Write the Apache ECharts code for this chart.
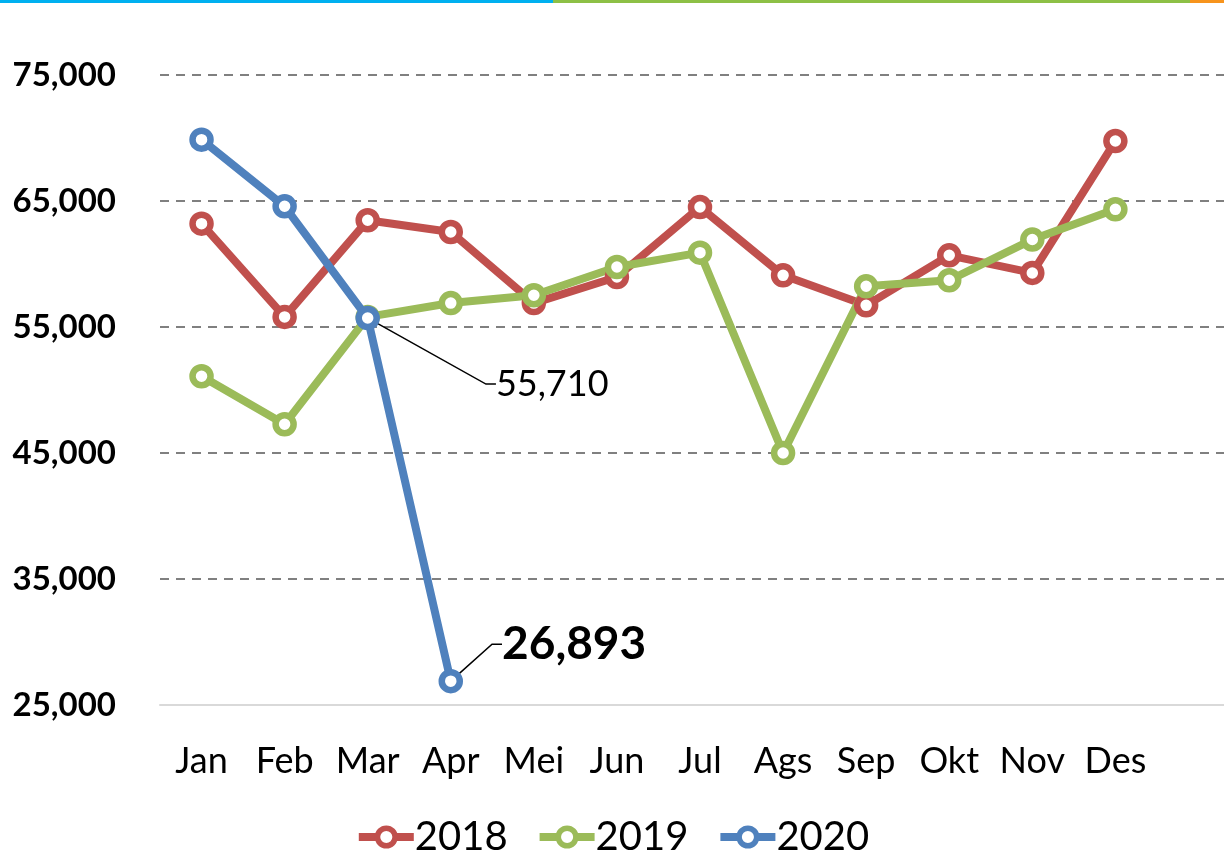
<!DOCTYPE html>
<html>
<head>
<meta charset="utf-8">
<script src="https://cdn.jsdelivr.net/npm/echarts@6/dist/echarts.min.js"></script>
<style>
html,body{margin:0;padding:0;background:#fff;}
#bar{position:absolute;left:0;top:0;width:1224px;height:3px;
  background:linear-gradient(to right,#00b0f0 0,#00b0f0 553px,#8dc046 553px,#8dc046 1190px,#f7941d 1190px,#f7941d 1224px);}
#chart{width:1224px;height:858px;}
</style>
</head>
<body>
<div id="bar"></div>
<div id="chart"></div>
<script>
// data
let months = ["Jan","Feb","Mar","Apr","Mei","Jun","Jul","Ags","Sep","Okt","Nov","Des"]
let years = ["2018","2019","2020"]
let data2018 = [63200,55800,63470,62540,56900,58970,64520,59100,56720,60690,59290,69760]
let data2019 = [51090,47280,55800,56900,57520,59760,60900,45000,58230,58710,61940,64340]
let data2020 = [69870,64580,55710,26893]
let colors = ["#c0504d","#9bbb59","#4f81bd"]

let myChart = echarts.init(document.getElementById("chart"))

function makeSeries(name, values, color){
  return {
    name:name,
    type:"line",
    data:values,
    symbol:"circle",
    symbolSize:18,
    showAllSymbol:true,
    lineStyle:{ color:color, width:8 },
    itemStyle:{ color:"#fff", borderColor:color, borderWidth:6.5 },
    emphasis:{ disabled:true },
    z:2
  }
}

let s2020 = makeSeries(years[2], data2020, colors[2])
s2020.z = 3
// labels only on the last two points of 2020
s2020.data = data2020.map(function(v, i){
  if(i === 2){
    return { value:v, label:{ show:true, position:"right", distance:4,
      formatter:function(p){ return p.value.toLocaleString("en-US") },
      fontSize:36, fontFamily:"Lato", color:"#000" } }
  }
  if(i === 3){
    return { value:v, label:{ show:true, position:"right", distance:4,
      formatter:function(p){ return p.value.toLocaleString("en-US") },
      fontSize:46, fontWeight:"bold", fontFamily:"Lato", color:"#000" } }
  }
  return v
})
s2020.labelLine = { show:true, length2:10, lineStyle:{ color:"#000", width:1.5 } }
s2020.labelLayout = function(p){
  if(p.dataIndex === 2) return { dx:112, dy:66 }
  if(p.dataIndex === 3) return { dx:35, dy:-37 }
  return {}
}

myChart.setOption({
  animation:false,
  textStyle:{ fontFamily:"Lato" },
  grid:{ left:160, top:75, bottom:153, width:1080, outerBoundsMode:"none" },
  legend:{
    bottom:-4,
    left:"center",
    itemWidth:55,
    itemHeight:22,
    itemGap:28,
    data:years,
    lineStyle:{ width:8 },
    itemStyle:{ borderWidth:5.5 },
    textStyle:{ fontSize:40, color:"#000", fontFamily:"Lato", padding:[0,0,0,-4] }
  },
  xAxis:{
    type:"category",
    data:months,
    max:12,
    boundaryGap:true,
    axisLine:{ show:true, lineStyle:{ color:"#d9d9d9", width:2 } },
    axisTick:{ show:false },
    axisLabel:{ interval:0, fontSize:36, color:"#000", margin:38, fontFamily:"Lato" }
  },
  yAxis:{
    type:"value",
    min:25000,
    max:75000,
    interval:10000,
    axisLine:{ show:false },
    axisTick:{ show:false },
    axisLabel:{ fontSize:33, fontWeight:"bold", color:"#000", margin:44,
      formatter:function(v){ return v.toLocaleString("en-US") } },
    splitLine:{ lineStyle:{ color:"#808080", width:2, type:[9,7] } }
  },
  series:[
    makeSeries(years[0], data2018, colors[0]),
    makeSeries(years[1], data2019, colors[1]),
    s2020
  ]
})
</script>
</body>
</html>
